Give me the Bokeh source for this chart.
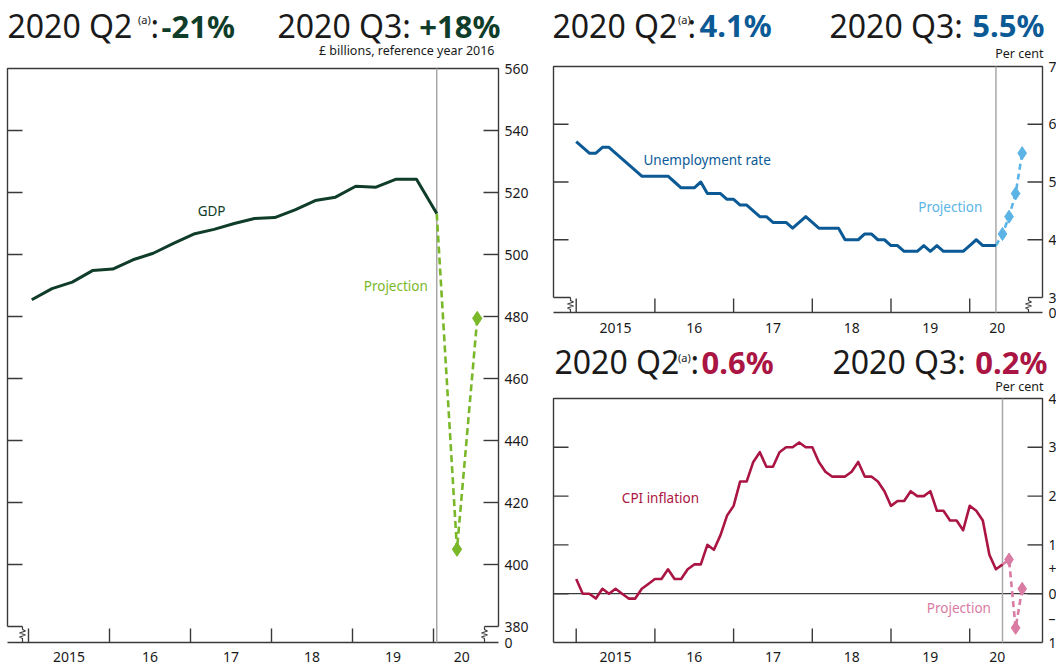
from bokeh.plotting import figure
from bokeh.models import Range1d, Label
from bokeh.layouts import row, column
from bokeh.embed import file_html
from bokeh.resources import INLINE

FONT = "Noto Sans"
AX = "#3a3a3a"
TXT = "#1a1a1a"
GRAY = "#a8a8a8"

GDP_COL = "#0f3d2a"
GDP_PROJ = "#7ab82a"
UNE_COL = "#0b5a96"
UNE_PROJ = "#5cb4e6"
CPI_COL = "#aa1543"
CPI_PROJ = "#d97ba3"

# ---------------- data ----------------
gdp_periods = ["2015 Q1", "2015 Q2", "2015 Q3", "2015 Q4",
               "2016 Q1", "2016 Q2", "2016 Q3", "2016 Q4",
               "2017 Q1", "2017 Q2", "2017 Q3", "2017 Q4",
               "2018 Q1", "2018 Q2", "2018 Q3", "2018 Q4",
               "2019 Q1", "2019 Q2", "2019 Q3", "2019 Q4",
               "2020 Q1"]
gdp_values = [485.4, 489.0, 491.1, 494.8,
              495.3, 498.3, 500.4, 503.6,
              506.6, 508.1, 510.0, 511.6,
              511.9, 514.4, 517.4, 518.5,
              522.0, 521.7, 524.3, 524.3,
              513.2]
gdp_proj_periods = ["2020 Q1", "2020 Q2", "2020 Q3"]
gdp_proj_values = [513.2, 404.9, 479.4]

unemp_start = "2015-01"
unemp_values = [5.7, 5.6, 5.5, 5.5, 5.6, 5.6, 5.5, 5.4, 5.3, 5.2, 5.1, 5.1,
                5.1, 5.1, 5.1, 5.0, 4.9, 4.9, 4.9, 5.0, 4.8, 4.8, 4.8, 4.7,
                4.7, 4.6, 4.6, 4.5, 4.4, 4.4, 4.3, 4.3, 4.3, 4.2, 4.3, 4.4,
                4.3, 4.2, 4.2, 4.2, 4.2, 4.0, 4.0, 4.0, 4.1, 4.1, 4.0, 4.0,
                3.9, 3.9, 3.8, 3.8, 3.8, 3.9, 3.8, 3.9, 3.8, 3.8, 3.8, 3.8,
                3.9, 4.0, 3.9, 3.9, 3.9]
unemp_proj_values = [3.9, 4.1, 4.4, 4.8, 5.5]

cpi_start = "2015-01"
cpi_values = [0.3, 0.0, 0.0, -0.1, 0.1, 0.0, 0.1, 0.0, -0.1, -0.1, 0.1, 0.2,
              0.3, 0.3, 0.5, 0.3, 0.3, 0.5, 0.6, 0.6, 1.0, 0.9, 1.2, 1.6,
              1.8, 2.3, 2.3, 2.7, 2.9, 2.6, 2.6, 2.9, 3.0, 3.0, 3.1, 3.0,
              3.0, 2.7, 2.5, 2.4, 2.4, 2.4, 2.5, 2.7, 2.4, 2.4, 2.3, 2.1,
              1.8, 1.9, 1.9, 2.1, 2.0, 2.0, 2.1, 1.7, 1.7, 1.5, 1.5, 1.3,
              1.8, 1.7, 1.5, 0.8, 0.5, 0.6]
cpi_proj_values = [0.6, 0.7, -0.7, 0.1]

year_bounds = [2015, 2016, 2017, 2018, 2019, 2020]
xlabel_pos = [2015.5, 2016.5, 2017.5, 2018.5, 2019.5, 2020.35]
xlabel_text = ["2015", "16", "17", "18", "19", "20"]

gdp_ticks = [380, 400, 420, 440, 460, 480, 500, 520, 540, 560]
unemp_ticks = [3, 4, 5, 6, 7]
cpi_ticks = [-1, 0, 1, 2, 3, 4]
cpi_tick_labels = ["1", "0", "1", "2", "3", "4"]
cpi_sign_pos = [0.5, -0.5]
cpi_sign_text = ["+", "\u2013"]


def quarter_x(s):
    y, q = s.split(" Q")
    return int(y) + (int(q) - 1) / 4 + 0.04


def month_x(start, i):
    y, m = start.split("-")
    return int(y) + (int(m) - 1 + i) / 12


# ---------------- panel geometry (page pixels) ----------------
class Panel:
    def __init__(self, cx, cy, w, h, xp0, xv0, xppu, yp0, yv0, yppu,
                 box_l, box_r, box_t, axis_y):
        self.cx, self.cy, self.w, self.h = cx, cy, w, h
        self.xp0, self.xv0, self.xppu = xp0, xv0, xppu
        self.yp0, self.yv0, self.yppu = yp0, yv0, yppu
        self.box_l, self.box_r, self.box_t, self.axis_y = box_l, box_r, box_t, axis_y
        self.p = figure(width=w, height=h,
                        x_range=Range1d(self.X(cx), self.X(cx + w)),
                        y_range=Range1d(self.Y(cy + h), self.Y(cy)),
                        x_axis_location=None, y_axis_location=None,
                        output_backend="svg", toolbar_location=None,
                        min_border=0, min_border_left=0, min_border_right=0,
                        min_border_top=0, min_border_bottom=0,
                        outline_line_color=None, background_fill_color="white",
                        border_fill_color="white")
        self.p.grid.visible = False

    def X(self, px):
        return self.xv0 + (px - self.xp0) / self.xppu

    def Y(self, py):
        return self.yv0 - (py - self.yp0) / self.yppu

    def DX(self, d):
        return d / self.xppu

    def DY(self, d):
        return d / self.yppu

    def seg(self, xs, ys, width=1.4, color=AX):
        self.p.line(xs, ys, line_color=color, line_width=width)

    def text(self, px, py, t, size, color=TXT, bold=False, align="left"):
        # py is the vertical centre of the text in page pixels
        self.p.add_layout(Label(x=self.X(px), y=self.Y(py), text=t, text_font=FONT,
                                text_font_size=size, text_color=color,
                                text_font_style="bold" if bold else "normal",
                                text_align=align, text_baseline="middle"))

    def dtext(self, x, y, t, size, color=TXT, align="left"):
        self.p.add_layout(Label(x=x, y=y, text=t, text_font=FONT, text_font_size=size,
                                text_color=color, text_align=align, text_baseline="middle"))

    def frame(self, ylo, yhi, ticks, tick_labels, label_dy, break_off=None, left_ticks=True):
        xl, xr = self.X(self.box_l), self.X(self.box_r)
        yax = self.Y(self.axis_y)
        # left, top, right borders
        self.seg([xl, xl, xr, xr], [ylo, yhi, yhi, ylo])
        # x axis line
        self.seg([xl, xr], [yax, yax])
        # x ticks (inward) and labels
        for yb in year_bounds:
            self.seg([yb, yb], [yax, yax + self.DY(14)])
        for xp, lab in zip(xlabel_pos, xlabel_text):
            self.dtext(xp, self.Y(self.axis_y + label_dy), lab, "14px", align="center")
        # y ticks
        for t in ticks:
            if ylo < t < yhi:
                self.seg([xr - self.DX(15), xr], [t, t])
                if left_ticks:
                    self.seg([xl, xl + self.DX(15)], [t, t])
        for t, lab in zip(ticks, tick_labels):
            self.dtext(self.X(self.box_r + 6), t, lab, "14px")
        # axis break
        if break_off is not None:
            zig = [(0, 0), (0, 3), (3, 4.5), (-3, 6.5), (3, 8.5), (-3, 10.5), (0, 12), (0, 30)]
            for edge_px, bx_px in ((self.box_l, self.box_l + break_off[0]),
                                   (self.box_r, self.box_r - break_off[1])):
                self.seg([self.X(edge_px), self.X(bx_px)], [ylo, ylo])
                ypx_lo = self.yp0 + (self.yv0 - ylo) * self.yppu
                xs, ys = [], []
                for dx, dy in zig:
                    py = min(ypx_lo + dy, self.axis_y)
                    xs.append(self.X(bx_px + dx))
                    ys.append(self.Y(py))
                self.seg(xs, ys, width=1.2)
            self.dtext(self.X(self.box_r + 6), yax, "0", "14px")

    def vline(self, x, ytop):
        self.seg([x, x], [self.Y(self.axis_y), ytop], width=1.5, color=GRAY)

    def header(self, mid, sup_mid, xs, v1, v2, col, unit, unit_right, unit_mid):
        left_x, sup_x, colon_x, v1_x, q3_x, v2_right = xs
        self.text(left_x, mid, "2020 Q2", "32px")
        self.text(sup_x, sup_mid, "(a)", "11px")
        self.text(colon_x, mid, ":", "32px")
        self.text(v1_x, mid, v1, "31px", color=col, bold=True)
        self.text(q3_x, mid, "2020 Q3:", "32px")
        self.text(v2_right, mid, v2, "31px", color=col, bold=True, align="right")
        self.text(unit_right, unit_mid, unit, "12.5px", align="right")


# ---------------- GDP panel ----------------
L = Panel(0, 0, 540, 664, 28, 2015, 81, 68, 560, (626 - 68) / 180, 7, 498, 68, 642)
L.frame(380, 560, gdp_ticks, [str(t) for t in gdp_ticks], 14, break_off=(15, 14))
L.vline(quarter_x(gdp_periods[-1]), 560)
L.p.line([quarter_x(s) for s in gdp_proj_periods], gdp_proj_values, line_color=GDP_PROJ,
         line_width=2.6, line_dash="7 4")
L.p.scatter([quarter_x(s) for s in gdp_proj_periods[1:]], gdp_proj_values[1:],
            marker="diamond", size=14, fill_color=GDP_PROJ, line_color=GDP_PROJ)
L.p.line([quarter_x(s) for s in gdp_periods], gdp_values, line_color=GDP_COL,
         line_width=3, line_join="round")
L.dtext(2017.26, 514.0, "GDP", "13.5px", color=GDP_COL, align="center")
L.dtext(2019.93, 490.0, "Projection", "13.5px", color=GDP_PROJ, align="right")
L.header(25, 19, (7, 137.5, 150, 161, 277, 500), "-21%", "+18%", GDP_COL,
         "£ billions, reference year 2016", 494, 50)

# ---------------- Unemployment panel ----------------
T = Panel(540, 0, 516, 340, 575.7, 2015, 78.7, 66, 7, (297 - 66) / 4, 553, 1042, 66, 312)
T.frame(3, 7, unemp_ticks, [str(t) for t in unemp_ticks], 15.5, break_off=(17, 14))
n_u = len(unemp_values)
T.vline(month_x(unemp_start, n_u - 1), 7)
ux_proj = [month_x(unemp_start, n_u - 1 + i) for i in range(len(unemp_proj_values))]
T.p.line(ux_proj, unemp_proj_values, line_color=UNE_PROJ, line_width=2.6, line_dash="6 4")
T.p.scatter(ux_proj[1:], unemp_proj_values[1:], marker="diamond", size=13,
            fill_color=UNE_PROJ, line_color=UNE_PROJ)
T.p.line([month_x(unemp_start, i) for i in range(n_u)], unemp_values, line_color=UNE_COL,
         line_width=3, line_join="round")
T.dtext(2015.855, 5.385, "Unemployment rate", "13.5px", color=UNE_COL)
T.dtext(2020.16, 4.574, "Projection", "13.5px", color=UNE_PROJ, align="right")
T.header(24.5, 19, (552, 677.5, 687, 699, 829, 1044), "4.1%", "5.5%", UNE_COL,
         "Per cent", 1043, 53)

# ---------------- CPI panel ----------------
B = Panel(540, 340, 516, 324, 575.7, 2015, 78.7, 398, 4, (642 - 398) / 5, 553, 1042, 398, 642)
B.frame(-1, 4, cpi_ticks, cpi_tick_labels, 14)
for v, s in zip(cpi_sign_pos, cpi_sign_text):
    B.dtext(B.X(B.box_r + 6), v, s, "14px")
B.seg([B.X(B.box_l), B.X(B.box_r)], [0, 0], width=1.3)
n_c = len(cpi_values)
B.vline(month_x(cpi_start, n_c - 1), 4)
cx_proj = [month_x(cpi_start, n_c - 1 + i) for i in range(len(cpi_proj_values))]
B.p.line(cx_proj, cpi_proj_values, line_color=CPI_PROJ, line_width=2.6, line_dash="6 4")
B.p.scatter(cx_proj[1:], cpi_proj_values[1:], marker="diamond", size=13,
            fill_color=CPI_PROJ, line_color=CPI_PROJ)
B.p.line([month_x(cpi_start, i) for i in range(n_c)], cpi_values, line_color=CPI_COL,
         line_width=2.6, line_join="round")
B.dtext(2015.58, 1.97, "CPI inflation", "13.5px", color=CPI_COL)
B.dtext(2020.27, -0.30, "Projection", "13.5px", color=CPI_PROJ, align="right")
B.header(361, 357, (554, 677.5, 690, 701, 832, 1047), "0.6%", "0.2%", CPI_COL,
         "Per cent", 1043, 386)

layout = row(L.p, column(T.p, B.p))
open("out.html", "w").write(file_html(layout, INLINE))
